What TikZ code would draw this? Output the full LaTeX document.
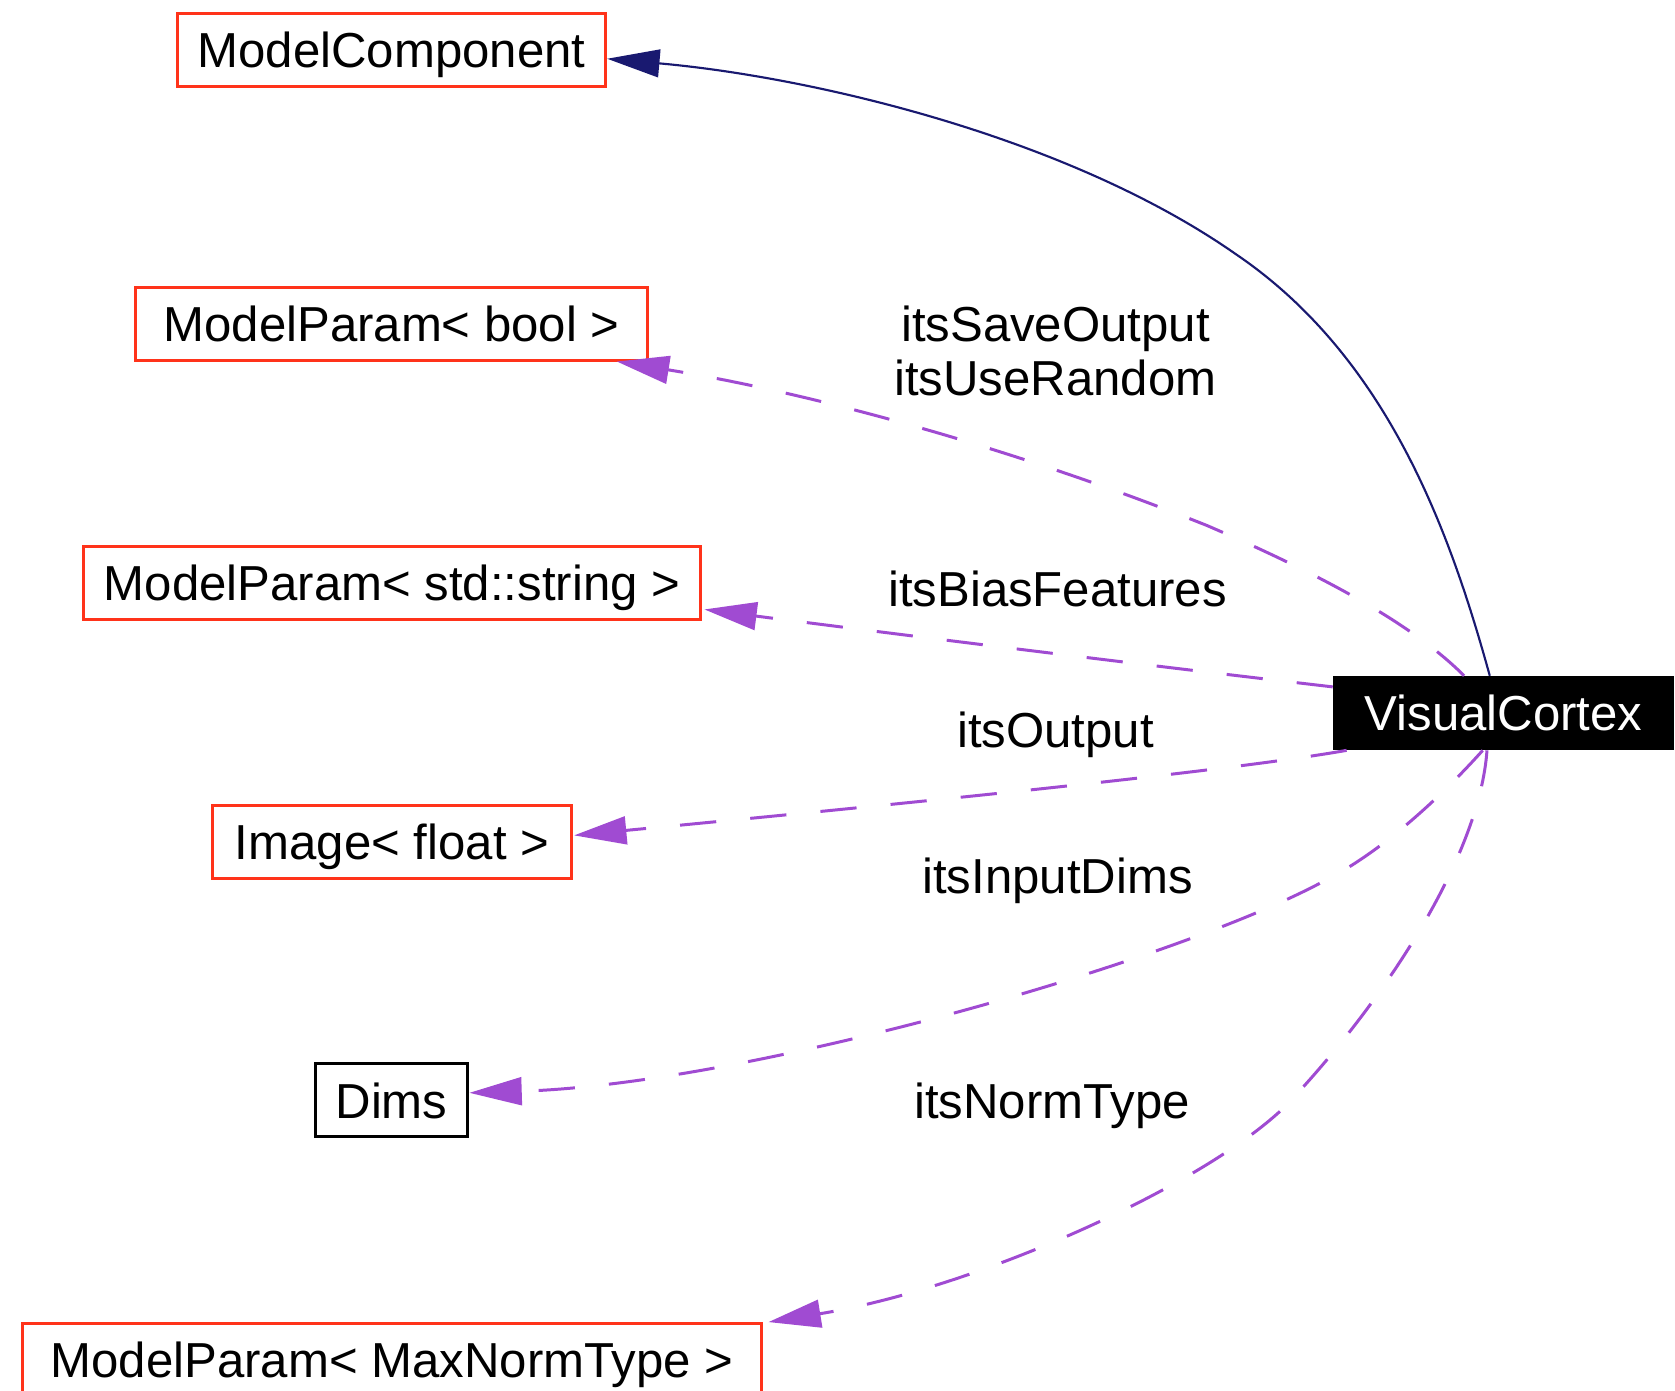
\documentclass[tikz,border=0pt]{standalone}
\usepackage{fontspec}
\setmainfont{Liberation Sans}
\usetikzlibrary{arrows.meta,calc}
\definecolor{boxred}{RGB}{255,51,26}
\definecolor{navyedge}{RGB}{25,25,112}
\definecolor{orchidedge}{RGB}{160,75,210}
\tikzset{
  cls/.style={draw=boxred, line width=1.4pt, minimum height=34pt, inner sep=0pt,
    font=\fontsize{23}{27}\selectfont, text height=16.6pt, text depth=0pt},
  plainbox/.style={cls, draw=black},
  focus/.style={cls, draw=black, fill=black, text=white},
  inherit/.style={draw=navyedge, line width=1pt, -{Triangle[length=24.5pt,width=13pt]}},
  member/.style={draw=orchidedge, line width=1.4pt, dash pattern=on 17pt off 16pt,
    -{Triangle[length=24.5pt,width=13pt]}},
  lbl/.style={font=\fontsize{23}{27}\selectfont, anchor=base, inner sep=0pt},
}
\begin{document}
\begin{tikzpicture}[x=0.5pt, y=-0.5pt]
\useasboundingbox (0,0) rectangle (1568,1302);
\clip (0,0) rectangle (1568,1302);

% classes
\node[cls, minimum width=200.5pt] (mc) at (366.5,47) {ModelComponent};
\node[cls, minimum width=239.5pt] (pb) at (366.5,303) {ModelParam< bool >};
\node[cls, minimum width=289pt] (ps) at (367,545.5) {ModelParam< std::string >};
\node[cls, minimum width=168pt] (img) at (367,788) {Image< float >};
\node[plainbox, minimum width=71.5pt] (dims) at (366.5,1030) {Dims};
\node[cls, minimum width=346pt] (pm) at (367,1273) {ModelParam< MaxNormType >};
\node[focus, minimum width=158.5pt, minimum height=33.5pt] (vc) at (1407.5,667.5) {VisualCortex};

% inheritance
\draw[inherit] ($(vc.north west)+(147,0)$)
  .. controls (1358,500) and (1300,335) .. (1157,238)
  .. controls (1000,128) and (760,72) .. ($(mc.east)+(0,8)$);

% members
\draw[member] ($(vc.north west)+(123,0)$)
  .. controls (1330,592) and (1260,548) .. (1130,492)
  .. controls (950,420) and (760,368) .. ($(pb.south east)+(-30,0)$);
\draw[member] ($(vc.west)+(0,-24.5)$)
  .. controls (1050,620) and (850,595) .. ($(ps.east)+(2,25)$);
\draw[member] ($(vc.south west)+(13,0)$)
  .. controls (1150,722) and (850,752) .. ($(img.east)+(1,-6)$);
\draw[member] ($(vc.south)+(-19.5,0)$)
  .. controls (1358,736) and (1299,795) .. (1239,825)
  .. controls (1100,900) and (700,1015) .. ($(dims.east)+(0,-7)$);
\draw[member] ($(vc.south)+(-15.5,0)$)
  .. controls (1385,800) and (1300,930) .. (1215,1023)
  .. controls (1150,1100) and (920,1205) .. ($(pm.north east)+(5,0)$);

% member names
\node[lbl] (l1) at (988,320) {itsSaveOutput};
\node[lbl] (l2) at (988,370) {itsUseRandom};
\node[lbl] (l3) at (990,568) {itsBiasFeatures};
\node[lbl] (l4) at (988,700) {itsOutput};
\node[lbl] (l5) at (990,836) {itsInputDims};
\node[lbl] (l6) at (985,1047) {itsNormType};
\end{tikzpicture}
\end{document}
